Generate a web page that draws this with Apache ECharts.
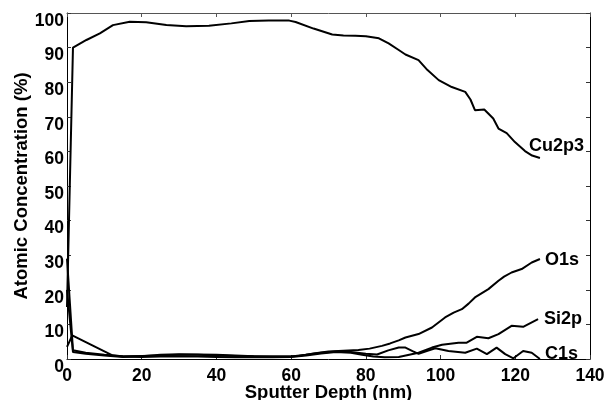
<!DOCTYPE html>
<html>
<head>
<meta charset="utf-8">
<script src="https://cdn.jsdelivr.net/npm/echarts@6/dist/echarts.min.js"></script>
<style>
html,body{margin:0;padding:0;background:#fff;}
#c{width:608px;height:400px;}
</style>
</head>
<body>
<div id="c"></div>
<script>
var xTicks = [0, 20, 40, 60, 80, 100, 120, 140];
var yTicks = [0, 10, 20, 30, 40, 50, 60, 70, 80, 90, 100];

var cu2p3 = [[0,15],[1.6,90],[5.2,92.2],[8.8,94.1],[12.3,96.5],[16.8,97.5],[21.2,97.3],[26.6,96.5],[31.9,96.2],[38,96.3],[44,97],[48.8,97.7],[54,97.8],[59.5,97.8],[61.2,97.4],[66,95.5],[71,93.8],[74,93.5],[77.2,93.4],[80,93.3],[83.5,92.7],[86.1,91.2],[88.8,89.3],[90.6,88],[94.1,86.4],[96.5,83.5],[99.5,80.6],[103,78.6],[106.6,77.2],[108,75],[109.2,71.9],[111.7,72.1],[114.1,69.5],[115.5,66.6],[117.7,65.3],[119.9,62.7],[122.6,60.1],[124.5,58.8],[126.6,58.1]];

var o1s = [[0,29],[1.6,2.5],[5,1.8],[10,1.2],[15,0.8],[20,0.9],[25,1.0],[30,1.2],[35,1.2],[40,1.0],[45,0.9],[50,0.8],[55,0.7],[60,0.8],[62,0.9],[66,1.6],[70,2.2],[74,2.4],[78,2.6],[81,3.0],[84.3,3.8],[86.5,4.5],[88.8,5.4],[90.6,6.2],[94.1,7.2],[97.7,9.1],[101.2,12],[103.5,13.4],[105.7,14.4],[107.5,16],[109.2,17.8],[112.8,20.2],[115.5,22.6],[117,23.8],[119,25],[121.7,26],[124.4,27.9],[126.6,28.9]];

var si2p = [[0,3.5],[1.4,6.8],[12.3,1.0],[15,0.7],[20,0.6],[25,0.7],[30,0.8],[35,0.7],[40,0.6],[45,0.5],[50,0.5],[55,0.5],[60,0.6],[64,1.0],[68,1.6],[72,2.0],[76,1.8],[79,1.2],[82,0.7],[85,0.5],[88.8,0.6],[94.1,1.8],[97.7,3.3],[100.4,4.1],[104.8,4.7],[107,4.7],[109.7,6.4],[112.8,6.0],[115.5,7.2],[119,9.6],[122.1,9.3],[126.1,11.5]];

var c1s = [[0,20],[1.6,2.0],[5,1.5],[10,1.0],[15,0.6],[20,0.8],[25,1.2],[30,1.4],[35,1.3],[40,1.2],[45,1.0],[50,0.8],[55,0.7],[60,0.7],[64,1.2],[68,1.8],[72,2.2],[76,2.0],[80,1.5],[83,1.3],[86,2.5],[88.8,3.3],[90.6,3.3],[92.5,2.3],[94.1,1.5],[96.5,2.4],[98.6,3.1],[102.1,2.3],[106.6,1.8],[109.7,3.0],[112.4,1.4],[115,3.3],[117.3,1.4],[119.5,0.2],[122.1,2.3],[124.4,1.8],[126.6,0]];

var seriesNames = ['Cu2p3', 'O1s', 'Si2p', 'C1s'];

var FONT = '"Liberation Sans", Arial, Helvetica, sans-serif';
var chart = echarts.init(document.getElementById('c'), null, {renderer: 'canvas'});

function lineSeries(name, data, offset) {
  return {
    name: name,
    type: 'line',
    data: data,
    showSymbol: false,
    symbol: 'none',
    lineStyle: {color: '#000', width: 2},
    itemStyle: {color: '#000'},
    endLabel: {
      show: true,
      formatter: '{a}',
      distance: 0,
      offset: offset,
      color: '#000',
      fontFamily: FONT,
      fontWeight: 'bold',
      fontSize: 18
    },
    emphasis: {disabled: true},
    z: 3
  };
}

var tickLabelStyle = {color: '#000', fontFamily: FONT, fontWeight: 'bold', fontSize: 17.5};

chart.setOption({
  animation: false,
  backgroundColor: '#fff',
  grid: {left: 67, right: 18, top: 13, bottom: 41, containLabel: false, outerBoundsMode: 'none'},
  xAxis: [{
    type: 'value', min: xTicks[0], max: xTicks[xTicks.length - 1], interval: 20,
    position: 'bottom',
    name: 'Sputter Depth (nm)', nameLocation: 'middle', nameGap: 24, nameMoveOverlap: false,
    nameTextStyle: {color: '#000', fontFamily: FONT, fontWeight: 'bold', fontSize: 18.5},
    axisLine: {show: true, onZero: false, lineStyle: {color: '#000', width: 1}},
    axisTick: {show: true, inside: true, length: 4, lineStyle: {color: '#333'}},
    axisLabel: Object.assign({margin: 8}, tickLabelStyle),
    splitLine: {show: false}
  }, {
    type: 'value', min: xTicks[0], max: xTicks[xTicks.length - 1], interval: 20,
    position: 'top',
    axisLine: {show: true, onZero: false, lineStyle: {color: '#555', width: 1}},
    axisTick: {show: true, inside: true, length: 4, lineStyle: {color: '#555'}},
    axisLabel: {show: false},
    splitLine: {show: false}
  }],
  yAxis: [{
    type: 'value', min: yTicks[0], max: yTicks[yTicks.length - 1], interval: 10,
    position: 'left',
    name: 'Atomic Concentration (%)', nameLocation: 'middle', nameGap: 36, nameMoveOverlap: false,
    nameTextStyle: {color: '#000', fontFamily: FONT, fontWeight: 'bold', fontSize: 18.5},
    axisLine: {show: true, onZero: false, lineStyle: {color: '#000', width: 1}},
    axisTick: {show: true, inside: true, length: 4, lineStyle: {color: '#333'}},
    axisLabel: Object.assign({margin: 3, verticalAlign: 'top', lineHeight: 16}, tickLabelStyle),
    splitLine: {show: false}
  }, {
    type: 'value', min: yTicks[0], max: yTicks[yTicks.length - 1], interval: 10,
    position: 'right',
    axisLine: {show: true, onZero: false, lineStyle: {color: '#000', width: 1}},
    axisTick: {show: true, inside: true, length: 4, lineStyle: {color: '#333'}},
    axisLabel: {show: false},
    splitLine: {show: false}
  }],
  series: [
    lineSeries(seriesNames[0], cu2p3, [-11, -12]),
    lineSeries(seriesNames[1], o1s, [5, 1]),
    lineSeries(seriesNames[2], si2p, [6, 0]),
    lineSeries(seriesNames[3], c1s, [5, -5])
  ]
});
</script>
</body>
</html>
